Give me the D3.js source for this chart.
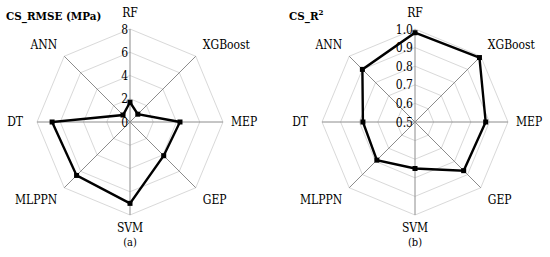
<!DOCTYPE html>
<html>
<head>
<meta charset="utf-8">
<script src="https://cdn.jsdelivr.net/npm/d3@7"></script>
<style>
  body { margin: 0; background: #fff; }
  svg text { font-family: "DejaVu Serif Condensed", "DejaVu Serif", serif; fill: #000; }
</style>
</head>
<body>
<div id="chart"></div>
<script>
// models around the radar, clockwise from the top
const models = ['RF', 'XGBoost', 'MEP', 'GEP', 'SVM', 'MLPPN', 'DT', 'ANN'];
const rmseValues = [1.7, 0.95, 4.3, 4.1, 7.0, 6.5, 6.7, 0.85];
const r2Values = [0.98, 0.99, 0.88, 0.87, 0.75, 0.79, 0.78, 0.90];
const rmseTicks = [0, 2, 4, 6, 8];
const r2Ticks = [0.5, 0.6, 0.7, 0.8, 0.9, 1.0];

var width = 550;
var height = 257;
var radius = 93;

var svg = d3.select('#chart')
    .append('svg')
    .attr('width', width)
    .attr('height', height);

function drawRadar(cx, cy, values, ticks, fmt, caption) {
    var g = svg.append('g').attr('transform', 'translate(' + cx + ',' + cy + ')');
    var r = d3.scaleLinear().domain(d3.extent(ticks)).range([0, radius]);
    var angle = d3.scaleLinear().domain([0, models.length]).range([0, 2 * Math.PI]);
    var pt = function (i, v) {
        var a = angle(i);
        return [Math.sin(a) * r(v), -Math.cos(a) * r(v)];
    };

    // octagon grid
    var ring = d3.line().curve(d3.curveLinearClosed);
    g.selectAll('.grid')
        .data(ticks.slice(1))
        .enter()
        .append('path')
        .attr('d', t => ring(models.map((m, i) => pt(i, t))))
        .attr('fill', 'none')
        .attr('stroke', '#d9d9d9')
        .attr('stroke-width', 1);

    // spokes
    g.selectAll('.spoke')
        .data(models)
        .enter()
        .append('line')
        .attr('x1', 0).attr('y1', 0)
        .attr('x2', (d, i) => pt(i, ticks[ticks.length - 1])[0])
        .attr('y2', (d, i) => pt(i, ticks[ticks.length - 1])[1])
        .attr('stroke', '#8c8c8c')
        .attr('stroke-width', 1);

    // tick labels on the vertical axis
    g.selectAll('.tick')
        .data(ticks)
        .enter()
        .append('text')
        .attr('x', -2)
        .attr('y', t => -r(t) + 1)
        .attr('text-anchor', 'end')
        .attr('dominant-baseline', 'middle')
        .style('font-size', '12px')
        .text(fmt);

    // data polygon
    g.append('path')
        .attr('d', ring(values.map((v, i) => pt(i, v))))
        .attr('fill', 'none')
        .attr('stroke', '#000')
        .attr('stroke-width', 2.4)
        .attr('stroke-linejoin', 'miter');

    g.selectAll('.marker')
        .data(values)
        .enter()
        .append('rect')
        .attr('x', (v, i) => pt(i, v)[0] - 2.5)
        .attr('y', (v, i) => pt(i, v)[1] - 2.5)
        .attr('width', 5)
        .attr('height', 5)
        .attr('fill', '#000');

    // category labels
    g.selectAll('.cat')
        .data(models)
        .enter()
        .append('text')
        .each(function (d, i) {
            var a = angle(i);
            var s = Math.sin(a), c = Math.cos(a);
            var x, y, anchor, base;
            if (Math.abs(s) < 0.1) {
                x = 0;
                y = c > 0 ? -(radius + 12) : radius + 17;
                anchor = 'middle';
                base = 'auto';
            } else if (Math.abs(c) < 0.1) {
                x = s > 0 ? radius + 8 : -(radius + 14);
                y = 0;
                anchor = s > 0 ? 'start' : 'end';
                base = 'middle';
            } else {
                x = s * (radius + 10);
                y = -c * (radius + 10);
                anchor = s > 0 ? 'start' : 'end';
                base = c > 0 ? 'auto' : 'hanging';
            }
            d3.select(this)
                .attr('x', x)
                .attr('y', y)
                .attr('text-anchor', anchor)
                .attr('dominant-baseline', base);
        })
        .style('font-size', '12px')
        .text(d => d);

    g.append('text')
        .attr('x', 0)
        .attr('y', 124)
        .attr('text-anchor', 'middle')
        .style('font-size', '11px')
        .text(caption);
    return g;
}

drawRadar(130, 122, rmseValues, rmseTicks, d => d, '(a)');
drawRadar(415, 122, r2Values, r2Ticks, d => d3.format('.1f')(d), '(b)');

// titles
svg.append('text')
    .attr('x', 6)
    .attr('y', 20)
    .style('font-size', '11.5px')
    .style('font-weight', 'bold')
    .text('CS_RMSE (MPa)');

var t2 = svg.append('text')
    .attr('x', 289)
    .attr('y', 20)
    .style('font-size', '11.5px')
    .style('font-weight', 'bold');
t2.append('tspan').text('CS_R');
t2.append('tspan')
    .attr('dy', -5)
    .style('font-size', '8px')
    .text('2');
</script>
</body>
</html>
